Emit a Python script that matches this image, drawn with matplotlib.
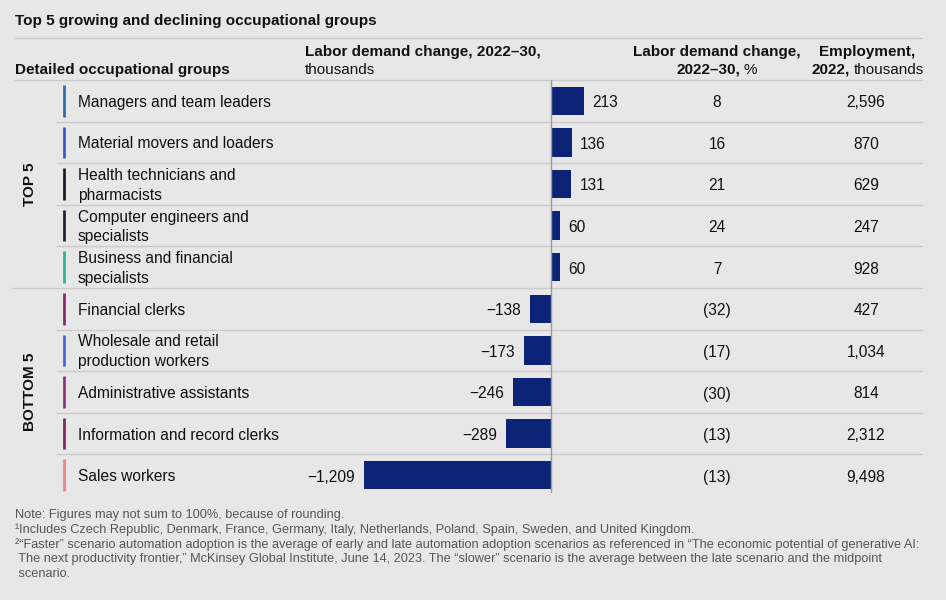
import matplotlib
matplotlib.use("Agg")
import matplotlib.pyplot as plt

# data
groups = ["Managers and team leaders", "Material movers and loaders",
          "Health technicians and\npharmacists", "Computer engineers and\nspecialists",
          "Business and financial\nspecialists", "Financial clerks",
          "Wholesale and retail\nproduction workers", "Administrative assistants",
          "Information and record clerks", "Sales workers"]
change_k = [213, 136, 131, 60, 60, -138, -173, -246, -289, -1209]
change_pct = ["8", "16", "21", "24", "7", "(32)", "(17)", "(30)", "(13)", "(13)"]
employment = ["2,596", "870", "629", "247", "928", "427", "1,034", "814", "2,312", "9,498"]
marker_colors = ["#2f6db3", "#3b57d6", "#1b1d2b", "#1b2438", "#2fb298",
                 "#8a2b6f", "#4a63e0", "#8e3478", "#7d2a68", "#e58585"]

BG = "#e7e7e7"
LINE = "#cacaca"
NAVY = "#0b2477"
FONT = ["Liberation Sans", "DejaVu Sans"]
plt.rcParams["font.family"] = FONT

W, H = 946, 600
fig = plt.figure(figsize=(W / 100, H / 100), dpi=100, facecolor=BG)

# overlay axes in pixel coordinates for the table text and rules
ax0 = fig.add_axes([0, 0, 1, 1])
ax0.set_xlim(0, W)
ax0.set_ylim(H, 0)
ax0.axis("off")

top, bottom = 80, 496
rh = (bottom - top) / len(groups)

ax0.text(15, 21, "Top 5 growing and declining occupational groups",
         fontsize=11, fontweight="bold", va="center", color="#111")
ax0.plot([15, 922], [38, 38], color=LINE, lw=1)

# headers
ax0.text(15, 70, "Detailed occupational groups", fontsize=11, fontweight="bold",
         va="center", color="#111")
ax0.text(305, 52, "Labor demand change, 2022\u201330,", fontsize=11,
         fontweight="bold", va="center", color="#111")
ax0.text(305, 70, "thousands", fontsize=11, va="center", color="#111")
ax0.text(717, 52, "Labor demand change,", fontsize=11, fontweight="bold",
         va="center", ha="center", color="#111")
ax0.text(740, 70, "2022\u201330,", fontsize=11, fontweight="bold",
         va="center", ha="right", color="#111")
ax0.text(743, 70, "%", fontsize=11, va="center", ha="left", color="#111")
ax0.text(867, 52, "Employment,", fontsize=11, fontweight="bold",
         va="center", ha="center", color="#111")
ax0.text(850, 70, "2022,", fontsize=11, fontweight="bold",
         va="center", ha="right", color="#111")
ax0.text(854, 70, "thousands", fontsize=11, va="center", ha="left", color="#111")
ax0.plot([15, 922], [top, top], color=LINE, lw=1)

for i, name in enumerate(groups):
    y0 = top + i * rh
    yc = y0 + rh / 2
    if i > 0:
        x_start = 12 if i == 5 else 57
        ax0.plot([x_start, 922], [y0, y0], color=LINE, lw=1)
    ax0.plot([64, 64], [y0 + 5, y0 + rh - 5], color=marker_colors[i], lw=2,
             solid_capstyle="butt")
    ax0.text(78, yc + 1.5, name, fontsize=11.2, va="center", color="#111",
             linespacing=1.4)
    ax0.text(717, yc + 2, change_pct[i], fontsize=11.2, va="center", ha="center", color="#111")
    ax0.text(866, yc + 2, employment[i], fontsize=11.2, va="center", ha="center", color="#111")

ax0.text(30, top + 2.5 * rh, "TOP 5", rotation=90, fontsize=11, fontweight="bold",
         va="center", ha="center", color="#111")
ax0.text(30, top + 7.5 * rh, "BOTTOM 5", rotation=90, fontsize=11, fontweight="bold",
         va="center", ha="center", color="#111")

# bar axes: zero at x=551 px, ~0.1545 px per thousand
scale = 0.1545
left_px, right_px = 300, 700
ax = fig.add_axes([left_px / W, (H - bottom) / H, (right_px - left_px) / W, (bottom - top) / H])
ax.set_facecolor("none")
ax.set_xlim(-(551 - left_px) / scale, (right_px - 551) / scale)
ax.set_ylim(len(groups) - 0.5, -0.5)
ax.axis("off")
rows = list(range(len(groups)))
ax.barh(rows, change_k, height=0.68, color=NAVY, zorder=2)
ax.axvline(0, ymin=0.01, ymax=1, color="#9a9a9a", lw=1, zorder=3)
for i, v in enumerate(change_k):
    lab = f"{abs(v):,}" if v > 0 else "\u2212" + f"{abs(v):,}"
    if v > 0:
        ax.annotate(lab, (v, i), xytext=(6, -1.3), textcoords="offset points",
                    va="center", ha="left", fontsize=11.2, color="#111")
    else:
        ax.annotate(lab, (v, i), xytext=(-6.5, -1.3), textcoords="offset points",
                    va="center", ha="right", fontsize=11.2, color="#111")

# footnotes
notes = [
    "Note: Figures may not sum to 100%, because of rounding.",
    "\u00b9Includes Czech Republic, Denmark, France, Germany, Italy, Netherlands, Poland, Spain, Sweden, and United Kingdom.",
    "\u00b2\u201cFaster\u201d scenario automation adoption is the average of early and late automation adoption scenarios as referenced in \u201cThe economic potential of generative AI:",
    " The next productivity frontier,\u201d McKinsey Global Institute, June 14, 2023. The \u201cslower\u201d scenario is the average between the late scenario and the midpoint",
    " scenario.",
]
for k, line in enumerate(notes):
    ax0.text(15, 515 + k * 14.7, line, fontsize=9.2, va="center", color="#555")

fig.savefig("out.png", dpi=100, facecolor=BG)
